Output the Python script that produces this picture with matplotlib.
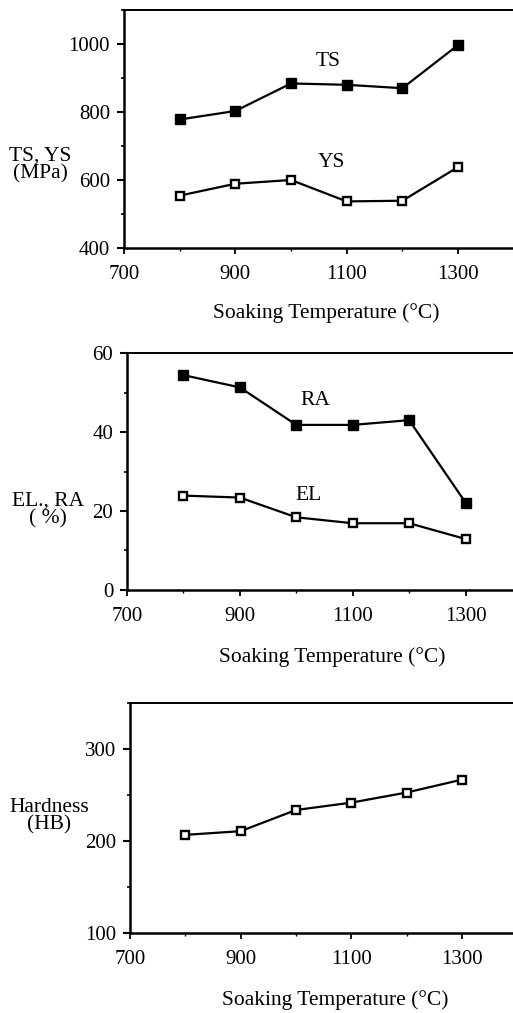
import matplotlib
matplotlib.use("Agg")
import matplotlib.pyplot as plt
from matplotlib.ticker import MultipleLocator

plt.rcParams['font.family'] = ['Liberation Serif', 'DejaVu Serif']

temps = [800, 900, 1000, 1100, 1200, 1300]
ts = [778, 803, 884, 880, 870, 997]
ys = [554, 589, 600, 537, 539, 638]
ra = [54.4, 51.3, 41.8, 41.8, 43.0, 22.1]
el = [23.9, 23.4, 18.4, 16.9, 16.9, 12.9]
hb = [207, 211, 234, 242, 253, 267]

xticks = [700, 900, 1100, 1300]
xlabel = "Soaking Temperature (°C)"

fig = plt.figure(figsize=(5.13, 10.13), dpi=100)

FS = 15
LFS = 15.5

def style(ax, ylim, ymaj, ymin, ylab, ylab_xy, xlab_xy):
    ax.set_xlim(700, 1400)
    ax.set_ylim(*ylim)
    ax.set_xticks(xticks)
    ax.xaxis.set_minor_locator(MultipleLocator(100))
    ax.yaxis.set_major_locator(MultipleLocator(ymaj))
    ax.yaxis.set_minor_locator(MultipleLocator(ymin))
    ax.spines['right'].set_visible(False)
    ax.spines['left'].set_linewidth(1.8)
    ax.spines['bottom'].set_linewidth(1.8)
    ax.spines['top'].set_linewidth(1.4)
    ax.tick_params(axis='y', which='major', direction='out', length=5, width=1.5, pad=5, labelsize=FS)
    ax.tick_params(axis='y', which='minor', direction='out', length=2, width=1.2)
    ax.tick_params(axis='x', which='major', direction='out', length=4, width=1.3, pad=8, labelsize=FS)
    ax.tick_params(axis='x', which='minor', direction='out', length=2, width=1.0)
    ax.set_ylabel(ylab, rotation=0, fontsize=LFS, linespacing=0.9)
    ax.yaxis.set_label_coords(*ylab_xy)
    ax.yaxis.label.set_va('center')
    ax.yaxis.label.set_ha('center')
    ax.set_xlabel(xlabel, fontsize=LFS)
    ax.xaxis.set_label_coords(*xlab_xy)
    ax.xaxis.label.set_va('center')

line_kw = dict(color='black', lw=1.6)
filled = dict(marker='s', markersize=7, mfc='black', mec='black')
opened = dict(marker='s', markersize=6, mfc='white', mec='black', mew=1.7)

# Panel 1
ax1 = fig.add_axes([0.2417, 0.7552, 1.0014 - 0.2417, 0.9901 - 0.7552])
ax1.plot(temps, ts, **line_kw, **filled)
ax1.plot(temps, ys, **line_kw, **opened)
style(ax1, (400, 1100), 200, 100, "TS, YS\n(MPa)", (-0.215, 0.349), (0.52, -0.273))
ax1.text(1066, 950, "TS", fontsize=LFS, ha='center', va='center')
ax1.text(1073, 651, "YS", fontsize=LFS, ha='center', va='center')

# Panel 2
ax2 = fig.add_axes([0.2476, 0.4176, 1.0176 - 0.2476, 0.6515 - 0.4176])
ax2.plot(temps, ra, **line_kw, **filled)
ax2.plot(temps, el, **line_kw, **opened)
style(ax2, (0, 60), 20, 10, "EL., RA\n( %)", (-0.2, 0.338), (0.519, -0.283))
ax2.text(1033, 48, "RA", fontsize=LFS, ha='center', va='center')
ax2.text(1021, 23.9, "EL", fontsize=LFS, ha='center', va='center')

# Panel 3
ax3 = fig.add_axes([0.2534, 0.0787, 1.008 - 0.2534, 0.3057 - 0.0787])
ax3.plot(temps, hb, **line_kw, **opened)
style(ax3, (100, 350), 100, 50, "Hardness\n(HB)", (-0.209, 0.509), (0.53, -0.291))

fig.savefig("out.png", dpi=100)
